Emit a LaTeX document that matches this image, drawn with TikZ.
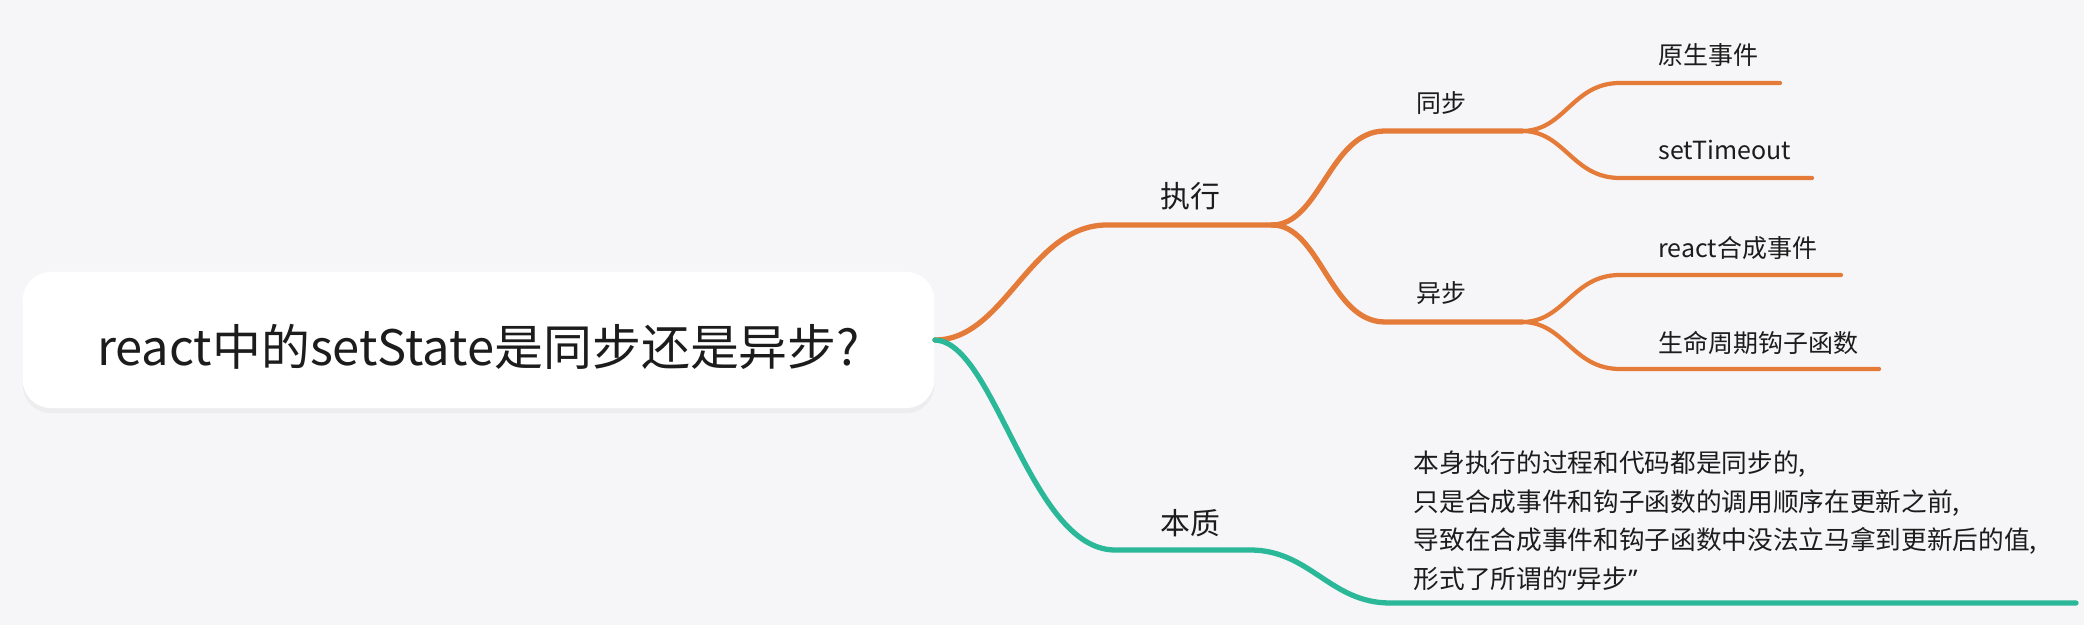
\documentclass[tikz,border=0pt]{standalone}
\usepackage{fontspec}
\setmainfont{Noto Sans CJK SC}
\newfontfamily\quotefont{Noto Sans}
\usetikzlibrary{shadows}

\definecolor{bgpaper}{RGB}{246,246,248}
\definecolor{branchorange}{RGB}{229,123,56}
\definecolor{branchteal}{RGB}{42,184,153}
\definecolor{inkgray}{RGB}{28,28,28}

\tikzset{
  rootbox/.style={fill=white, rounded corners=8pt, minimum width=9.11cm, minimum height=1.36cm,
    drop shadow={shadow xshift=0pt, shadow yshift=-1.5pt, opacity=0.07}},
  titletext/.style={text=inkgray, font=\fontsize{13.9pt}{16pt}\selectfont},
  mainlabel/.style={text=inkgray, font=\fontsize{8.5pt}{10pt}\selectfont},
  sublabel/.style={text=inkgray, font=\fontsize{7.1pt}{8.5pt}\selectfont},
  leaflabel/.style={sublabel, anchor=west},
  notetext/.style={text=inkgray, anchor=west, align=left, inner sep=0pt,
    font=\fontsize{7.3pt}{10.95pt}\selectfont},
  orangeline/.style={draw=branchorange, line width=1.5pt, line cap=round},
  leafline/.style={orangeline, line width=1.2pt},
  tealline/.style={draw=branchteal, line width=1.5pt, line cap=round}
}

\begin{document}
\begin{tikzpicture}[x=0.01cm, y=-0.01cm]
\fill[bgpaper] (0,0) rectangle (2084,625);
\useasboundingbox (0,0) rectangle (2084,625);

% root
\node[rootbox] (root) at (478.5,340) {};
\node[titletext] (title) at ([yshift=-2pt]root.center) {react中的setState是同步还是异步?};

% 执行
\coordinate (zxA) at (1107,225);
\coordinate (zxB) at (1272,225);
\node[mainlabel] (zx) at (1190,196) {执行};
\draw[orangeline] (root.east) .. controls (1005,340) and (1030,225) .. (zxA) -- (zxB);

% 同步 / 异步
\coordinate (tbA) at (1385,131);
\coordinate (tbB) at (1522,131);
\coordinate (ybA) at (1385,322);
\coordinate (ybB) at (1522,322);
\node[sublabel] (tb) at (1441,103) {同步};
\node[sublabel] (yb) at (1441,293) {异步};
\draw[orangeline] (zxB) .. controls (1320,225) and (1330,131) .. (tbA) -- (tbB);
\draw[orangeline] (zxB) .. controls (1320,225) and (1330,322) .. (ybA) -- (ybB);

% leaves
\coordinate (ysA) at (1620,83);   \coordinate (ysB) at (1780,83);
\coordinate (stA) at (1620,178);  \coordinate (stB) at (1812,178);
\coordinate (hcA) at (1620,275);  \coordinate (hcB) at (1841,275);
\coordinate (smA) at (1620,369);  \coordinate (smB) at (1879,369);
\node[leaflabel] (ys) at (1646,55) {原生事件};
\node[leaflabel] (st) at (1646,150) {setTimeout};
\node[leaflabel] (hc) at (1646,248) {react合成事件};
\node[leaflabel] (sm) at (1646,343) {生命周期钩子函数};
\draw[leafline] (tbB) .. controls (1565,131) and (1572,83) .. (ysA) -- (ysB);
\draw[leafline] (tbB) .. controls (1565,131) and (1572,178) .. (stA) -- (stB);
\draw[leafline] (ybB) .. controls (1565,322) and (1572,275) .. (hcA) -- (hcB);
\draw[leafline] (ybB) .. controls (1565,322) and (1572,369) .. (smA) -- (smB);

% 本质
\coordinate (bzA) at (1115,550);
\coordinate (bzB) at (1250,550);
\coordinate (ntA) at (1390,603);
\coordinate (ntB) at (2076,603);
\node[mainlabel] (bz) at (1190,523) {本质};
\draw[tealline] (root.east) .. controls (995,342) and (1030,550) .. (bzA) -- (bzB)
  .. controls (1310,550) and (1330,603) .. (ntA) -- (ntB);
\node[notetext] (nt) at (1413,521) {本身执行的过程和代码都是同步的,\\
  只是合成事件和钩子函数的调用顺序在更新之前,\\
  导致在合成事件和钩子函数中没法立马拿到更新后的值,\\
  形式了所谓的{\quotefont “}异步{\quotefont ”}};
\end{tikzpicture}
\end{document}
